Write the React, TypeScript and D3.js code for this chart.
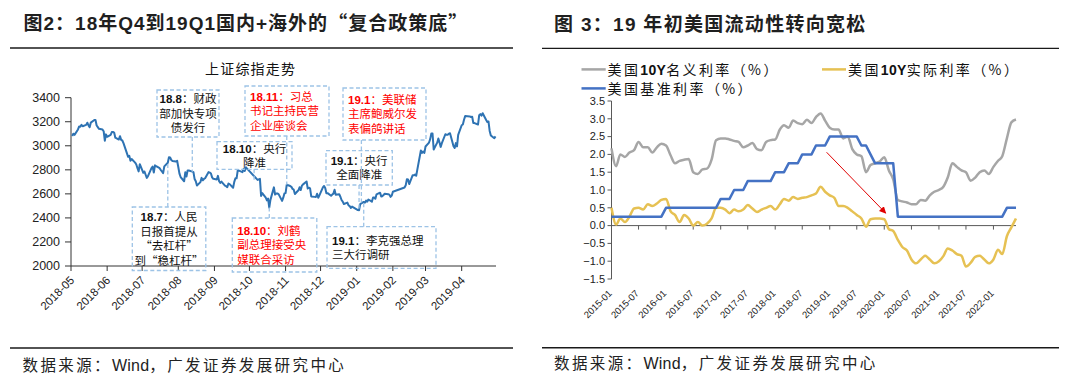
import React from "react";
import * as d3 from "d3";

// ================= LEFT CHART DATA (上证综指) =================
const sseDates: string[] = [
  "2018-05-02","2018-05-03","2018-05-04","2018-05-07","2018-05-08","2018-05-09","2018-05-10","2018-05-11","2018-05-14","2018-05-15","2018-05-16","2018-05-17","2018-05-18","2018-05-21","2018-05-22","2018-05-23","2018-05-24","2018-05-25","2018-05-28","2018-05-29","2018-05-30","2018-05-31",
  "2018-06-01","2018-06-04","2018-06-05","2018-06-06","2018-06-07","2018-06-08","2018-06-11","2018-06-12","2018-06-13","2018-06-14","2018-06-15","2018-06-19","2018-06-20","2018-06-21","2018-06-22","2018-06-25","2018-06-26","2018-06-27","2018-06-28","2018-06-29",
  "2018-07-02","2018-07-03","2018-07-04","2018-07-05","2018-07-06","2018-07-09","2018-07-10","2018-07-11","2018-07-12","2018-07-13","2018-07-16","2018-07-17","2018-07-18","2018-07-19","2018-07-20","2018-07-23","2018-07-24","2018-07-25","2018-07-26","2018-07-27","2018-07-30","2018-07-31",
  "2018-08-01","2018-08-02","2018-08-03","2018-08-06","2018-08-07","2018-08-08","2018-08-09","2018-08-10","2018-08-13","2018-08-14","2018-08-15","2018-08-16","2018-08-17","2018-08-20","2018-08-21","2018-08-22","2018-08-23","2018-08-24","2018-08-27","2018-08-28","2018-08-29","2018-08-30","2018-08-31",
  "2018-09-03","2018-09-04","2018-09-05","2018-09-06","2018-09-07","2018-09-10","2018-09-11","2018-09-12","2018-09-13","2018-09-14","2018-09-17","2018-09-18","2018-09-19","2018-09-20","2018-09-21","2018-09-25","2018-09-26","2018-09-27","2018-09-28",
  "2018-10-08","2018-10-09","2018-10-10","2018-10-11","2018-10-12","2018-10-15","2018-10-16","2018-10-17","2018-10-18","2018-10-19","2018-10-22","2018-10-23","2018-10-24","2018-10-25","2018-10-26","2018-10-29","2018-10-30","2018-10-31",
  "2018-11-01","2018-11-02","2018-11-05","2018-11-06","2018-11-07","2018-11-08","2018-11-09","2018-11-12","2018-11-13","2018-11-14","2018-11-15","2018-11-16","2018-11-19","2018-11-20","2018-11-21","2018-11-22","2018-11-23","2018-11-26","2018-11-27","2018-11-28","2018-11-29","2018-11-30",
  "2018-12-03","2018-12-04","2018-12-05","2018-12-06","2018-12-07","2018-12-10","2018-12-11","2018-12-12","2018-12-13","2018-12-14","2018-12-17","2018-12-18","2018-12-19","2018-12-20","2018-12-21","2018-12-24","2018-12-25","2018-12-26","2018-12-27","2018-12-28",
  "2019-01-02","2019-01-03","2019-01-04","2019-01-07","2019-01-08","2019-01-09","2019-01-10","2019-01-11","2019-01-14","2019-01-15","2019-01-16","2019-01-17","2019-01-18","2019-01-21","2019-01-22","2019-01-23","2019-01-24","2019-01-25","2019-01-28","2019-01-29","2019-01-30","2019-01-31",
  "2019-02-01","2019-02-11","2019-02-12","2019-02-13","2019-02-14","2019-02-15","2019-02-18","2019-02-19","2019-02-20","2019-02-21","2019-02-22","2019-02-25","2019-02-26","2019-02-27","2019-02-28",
  "2019-03-01","2019-03-04","2019-03-05","2019-03-06","2019-03-07","2019-03-08","2019-03-11","2019-03-12","2019-03-13","2019-03-14","2019-03-15","2019-03-18","2019-03-19","2019-03-20","2019-03-21","2019-03-22","2019-03-25","2019-03-26","2019-03-27","2019-03-28","2019-03-29",
  "2019-04-01","2019-04-02","2019-04-03","2019-04-04","2019-04-08","2019-04-09","2019-04-10","2019-04-11","2019-04-12","2019-04-15","2019-04-16","2019-04-17","2019-04-18","2019-04-19","2019-04-22","2019-04-23","2019-04-24","2019-04-25","2019-04-26","2019-04-29","2019-04-30",
];
const sseClose: number[] = [
  3081,3100,3091,3136,3161,3159,3174,3163,3174,3192,3170,3155,3193,3214,3214,3169,3155,3141,3135,3121,3042,3095,
  3075,3091,3114,3115,3110,3067,3052,3080,3049,3044,3022,2908,2916,2876,2890,2860,2845,2813,2787,2847,
  2775,2786,2759,2733,2747,2815,2827,2777,2837,2831,2814,2798,2787,2773,2829,2859,2905,2903,2882,2874,2869,2876,
  2824,2768,2740,2705,2779,2744,2795,2795,2785,2781,2723,2705,2669,2698,2733,2713,2724,2730,2781,2777,2769,2737,2725,
  2720,2750,2705,2691,2702,2669,2664,2656,2686,2681,2651,2700,2730,2729,2797,2781,2806,2791,2821,
  2716,2721,2725,2583,2606,2568,2546,2561,2486,2550,2654,2594,2603,2603,2598,2542,2568,2603,
  2606,2676,2665,2659,2641,2635,2599,2630,2655,2632,2668,2679,2703,2645,2651,2646,2579,2575,2574,2601,2567,2588,
  2654,2666,2649,2605,2606,2584,2594,2602,2634,2593,2597,2576,2549,2536,2516,2527,2504,2498,2483,2494,
  2465,2464,2515,2533,2526,2544,2535,2553,2535,2570,2570,2559,2596,2610,2579,2581,2591,2601,2597,2594,2575,2585,
  2618,2653,2671,2721,2719,2682,2755,2754,2761,2751,2804,2961,2941,2953,2941,
  2994,3027,3055,3103,3102,2969,3026,3061,3027,2991,3022,3096,3091,3091,3101,3104,2997,2982,3022,2995,3091,
  3171,3177,3217,3247,3244,3239,3242,3190,3189,3177,3254,3263,3251,3271,3215,3198,3202,3124,3086,3063,3078,
];
const leftYTicks = [2000, 2200, 2400, 2600, 2800, 3000, 3200, 3400];
const leftMonthLabels = ["2018-05","2018-06","2018-07","2018-08","2018-09","2018-10","2018-11","2018-12","2019-01","2019-02","2019-03","2019-04"];

// annotations (text + the date each one points to)
const noteHeads = ["18.8", "18.11", "18.10", "18.7", "18.10", "19.1", "19.1", "19.1"];
const noteLines: string[][] = [
  ["财政", "部加快专项", "债发行"],
  ["习总", "书记主持民营", "企业座谈会"],
  ["央行", "降准"],
  ["人民", "日报首提从", "“去杠杆”", "到“稳杠杆”"],
  ["刘鹤", "副总理接受央", "媒联合采访"],
  ["美联储", "主席鲍威尔发", "表偏鸽讲话"],
  ["央行", "全面降准"],
  ["李克强总理", "三大行调研"],
];
const noteDates = ["2018-08-13", "2018-11-02", "2018-10-05", "2018-07-23", "2018-10-18", "2019-01-05", "2019-01-03", "2019-01-07"];
const noteRed = [false, true, false, false, true, true, false, false];

// ================= RIGHT CHART DATA =================
const usMonths = d3.timeMonth.range(new Date(2015, 0, 1), new Date(2022, 6, 1));
const nominal10Y: number[] = [
  2.17,1.67,2.0,1.93,2.05,2.12,2.35,2.2,2.2,2.05,2.2,2.3,
  2.25,1.97,1.75,1.82,1.85,1.87,1.5,1.45,1.58,1.6,1.85,2.4,
  2.45,2.45,2.42,2.38,2.35,2.2,2.25,2.32,2.15,2.12,2.35,2.4,
  2.42,2.7,2.82,2.75,2.95,2.88,2.85,2.97,2.88,3.05,3.15,2.95,
  2.75,2.7,2.7,2.45,2.5,2.15,2.0,1.95,1.5,1.7,1.75,1.8,
  1.92,1.55,1.3,0.72,0.68,0.65,0.6,0.6,0.72,0.7,0.85,0.95,
  1.0,1.1,1.35,1.75,1.65,1.55,1.5,1.26,1.35,1.5,1.55,1.45,
  1.65,1.82,1.95,2.45,2.9,2.98,
];
const real10Y: number[] = [
  0.5,0.03,0.2,0.1,0.25,0.48,0.5,0.45,0.6,0.55,0.62,0.72,
  0.75,0.4,0.3,0.1,0.3,0.2,0.0,0.1,0.0,0.05,0.2,0.5,
  0.5,0.45,0.35,0.45,0.4,0.45,0.58,0.48,0.38,0.45,0.5,0.55,
  0.45,0.6,0.75,0.7,0.8,0.75,0.78,0.8,0.85,0.9,1.09,0.95,
  0.85,0.78,0.55,0.55,0.5,0.4,0.3,0.2,-0.03,0.18,0.2,0.2,
  0.18,-0.1,-0.15,-0.4,-0.6,-0.7,-0.95,-1.06,-0.95,-0.85,-0.95,-1.06,
  -1.0,-0.85,-0.64,-0.7,-0.8,-0.85,-1.15,-1.05,-0.88,-0.85,-0.95,-1.06,
  -0.95,-0.68,-0.8,-0.3,-0.05,0.2,
];
const fedRate: number[] = [
  0.25,0.25,0.25,0.25,0.25,0.25,0.25,0.25,0.25,0.25,0.25,0.25,
  0.5,0.5,0.5,0.5,0.5,0.5,0.5,0.5,0.5,0.5,0.5,0.5,
  0.75,0.75,0.75,1.0,1.0,1.0,1.25,1.25,1.25,1.25,1.25,1.25,
  1.5,1.5,1.5,1.75,1.75,1.75,2.0,2.0,2.0,2.25,2.25,2.25,
  2.5,2.5,2.5,2.5,2.5,2.5,2.5,2.25,2.25,2.0,1.75,1.75,
  1.75,1.75,1.75,0.25,0.25,0.25,0.25,0.25,0.25,0.25,0.25,0.25,
  0.25,0.25,0.25,0.25,0.25,0.25,0.25,0.25,0.25,0.25,0.25,0.25,
  0.25,0.25,0.25,0.5,0.5,0.5,
];
const rightYTicks = [-1.5, -1.0, -0.5, 0, 0.5, 1.0, 1.5, 2.0, 2.5, 3.0, 3.5];
const rightXLabels = ["2015-01","2015-07","2016-01","2016-07","2017-01","2017-07","2018-01","2018-07","2019-01","2019-07","2020-01","2020-07","2021-01","2021-07","2022-01"];
// arrow annotation: from (date, value) to (date, value)
const arrowDates = ["2018-12-11", "2020-01-11"];
const arrowValues = [2.06, 0.35];

const FONT = "'Liberation Sans', 'Noto Sans CJK SC', sans-serif";
const CJK = "'Noto Sans CJK SC', sans-serif";
const LAT = "'Liberation Sans', sans-serif";

// box geometry (layout only)
const noteBoxes = [
  { x: 157, y: 90, w: 62, h: 47, align: "middle", dir: "down" },
  { x: 245, y: 86, w: 84, h: 50, align: "start", dir: "down" },
  { x: 217, y: 141.7, w: 75, h: 27.6, align: "middle", dir: "down" },
  { x: 132.3, y: 207, w: 73.5, h: 63.5, align: "middle", dir: "up" },
  { x: 232.3, y: 218, w: 84.5, h: 54, align: "start", dir: "up" },
  { x: 343, y: 88, w: 83, h: 52, align: "start", dir: "down" },
  { x: 326, y: 150.7, w: 66.3, h: 34.3, align: "middle", dir: "down" },
  { x: 327, y: 226.7, w: 109, h: 41.6, align: "start", dir: "up" },
];

export default function App() {
  const parse = d3.timeParse("%Y-%m-%d");

  // ---------- left scales ----------
  const lx = d3.scaleTime().domain([new Date(2018, 4, 1), new Date(2019, 3, 30)]).range([71, 495.5]);
  const ly = d3.scaleLinear().domain([2000, 3400]).range([266, 97.7]);
  const ssePts: [Date, number][] = sseDates.map((d, i) => [parse(d) as Date, sseClose[i]]);
  const sseLine = d3.line<[Date, number]>().x((d) => lx(d[0])).y((d) => ly(d[1]));
  const bis = d3.bisector((d: [Date, number]) => d[0]).center;
  const valueAt = (ds: string) => {
    const dt = parse(ds) as Date;
    return ssePts[bis(ssePts, dt)][1];
  };

  // ---------- right scales ----------
  const rx = d3.scaleTime().domain([new Date(2015, 0, 1), new Date(2022, 5, 1)]).range([611.5, 1016]);
  const ry = d3.scaleLinear().domain([-1.5, 3.5]).range([279, 101]);
  const mk = (vals: number[]) => usMonths.map((m, i) => [m, vals[i]] as [Date, number]);
  const smooth = d3.line<[Date, number]>().x((d) => rx(d[0])).y((d) => ry(d[1])).curve(d3.curveMonotoneX);
  const straight = d3.line<[Date, number]>().x((d) => rx(d[0])).y((d) => ry(d[1]));
  const fmt1 = d3.format(".1f");

  const dashStyle = { stroke: "#9DC3E6", strokeWidth: 1.3, strokeDasharray: "4 2.5", fill: "none" } as const;

  const legendText = (x: number, y: number, pre: string, bold: string, post: string) => (
    <text x={x} y={y} fontSize={14} fill="#111" fontFamily={CJK} letterSpacing={2.4}>
      <tspan>{pre}</tspan>
      {bold ? <tspan fontFamily={LAT} fontWeight="bold" letterSpacing={0.3}>{bold}</tspan> : null}
      <tspan>{post}</tspan>
    </text>
  );

  const sourceText = (x: number, y: number) => (
    <text x={x} y={y} fontSize={15.5} fill="#222" fontFamily={CJK} letterSpacing={2.4}>
      <tspan>数据来源：</tspan>
      <tspan fontFamily={LAT} fontSize={16} letterSpacing={0.2}>Wind</tspan>
      <tspan>，广发证券发展研究中心</tspan>
    </text>
  );

  return (
    <svg width={1080} height={381} style={{ position: "absolute", left: 0, top: 0, background: "#fff" }} fontFamily={FONT}>
      <defs>
        <marker id="arrowHead" viewBox="0 0 10 10" refX="9" refY="5" markerWidth="7" markerHeight="7" orient="auto">
          <path d="M0,0 L10,5 L0,10 z" fill="#E00000" />
        </marker>
      </defs>
      <rect x={0} y={0} width={1080} height={381} fill="#fff" />

      {/* ================= LEFT PANEL ================= */}
      <text x={23.5} y={30} fontSize={19} fontWeight="bold" fill="#1f1f1f" letterSpacing={1}>
        图2：18年Q4到19Q1国内+海外的<tspan fontFamily={CJK}>“</tspan>复合政策底<tspan fontFamily={CJK}>”</tspan>
      </text>
      <line x1={10} x2={513} y1={48} y2={48} stroke="#1a1a1a" strokeWidth={1.4} />
      <text x={205} y={73.5} fontSize={14} fontFamily={CJK} fill="#111" textLength={90} lengthAdjust="spacing">上证综指走势</text>

      {/* y axis */}
      <line x1={71} x2={71} y1={ly(3400)} y2={ly(2000)} stroke="#333" strokeWidth={1} />
      {leftYTicks.map((t) => (
        <g key={"ly" + t}>
          <line x1={65} x2={71} y1={ly(t)} y2={ly(t)} stroke="#333" strokeWidth={1} />
          <text x={60} y={ly(t)} dy="0.35em" fontSize={12.5} textAnchor="end" fill="#222">{t}</text>
        </g>
      ))}
      {/* x axis */}
      <line x1={71} x2={496} y1={ly(2000)} y2={ly(2000)} stroke="#333" strokeWidth={1} />
      {leftMonthLabels.map((m) => {
        const xx = lx(parse(m + "-01") as Date);
        return (
          <g key={"lx" + m}>
            <line x1={xx} x2={xx} y1={266} y2={271} stroke="#333" strokeWidth={1} />
            <text transform={`translate(${xx + 4},${281}) rotate(-45)`} fontSize={11.5} textAnchor="end" fill="#222">{m}</text>
          </g>
        );
      })}

      {/* series */}
      <path d={sseLine(ssePts) || ""} fill="none" stroke="#2E73B3" strokeWidth={2} strokeLinejoin="round" />

      {/* annotation boxes */}
      {noteBoxes.map((b, i) => {
        const lines = noteLines[i];
        const n = lines.length;
        const step = 14.6;
        const firstBase = b.y + b.h / 2 - ((n - 1) * step) / 2 + 4.3;
        const tx = b.align === "middle" ? b.x + b.w / 2 : b.x + 5;
        const color = noteRed[i] ? "#FF0000" : "#111";
        return (
          <g key={"nb" + i}>
            <rect x={b.x} y={b.y} width={b.w} height={b.h} fill="#fff" {...dashStyle} />
            {lines.map((ln, j) => (
              <text key={j} x={tx} y={firstBase + j * step} fontSize={11.5} fill={color} textAnchor={b.align} fontFamily={CJK}>
                {j === 0 ? (
                  <>
                    <tspan fontFamily={LAT} fontWeight="bold">{noteHeads[i]}</tspan>
                    <tspan>：{ln}</tspan>
                  </>
                ) : (
                  ln
                )}
              </text>
            ))}
          </g>
        );
      })}
      {/* connectors */}
      {noteBoxes.map((b, i) => {
        const xx = lx(parse(noteDates[i]) as Date);
        const yv = ly(valueAt(noteDates[i]));
        const y1 = b.dir === "down" ? b.y + b.h : b.y;
        return <line key={"nc" + i} x1={xx} x2={xx} y1={y1} y2={yv} {...dashStyle} />;
      })}

      <line x1={10} x2={513} y1={348} y2={348} stroke="#1a1a1a" strokeWidth={1.4} />
      {sourceText(22.5, 371)}

      {/* ================= RIGHT PANEL ================= */}
      <text x={554} y={31} fontSize={19} fontWeight="bold" fill="#1f1f1f" letterSpacing={1.3}>
        图 3：19 年初美国流动性转向宽松
      </text>
      <line x1={542} x2={1059} y1={48.4} y2={48.4} stroke="#1a1a1a" strokeWidth={1.4} />

      {/* legend */}
      <line x1={581.5} x2={605.7} y1={69.4} y2={69.4} stroke="#A6A6A6" strokeWidth={2.5} />
      {legendText(607.5, 74.5, "美国", "10Y", "名义利率（%）")}
      <line x1={822} x2={846} y1={69.4} y2={69.4} stroke="#E6C153" strokeWidth={2.5} />
      {legendText(848, 74.5, "美国", "10Y", "实际利率（%）")}
      <line x1={581.5} x2={605.7} y1={88.4} y2={88.4} stroke="#4472C4" strokeWidth={2.5} />
      {legendText(607.5, 93.5, "美国基准利率（%）", "", "")}

      {/* y axis */}
      <line x1={611.5} x2={611.5} y1={ry(3.5)} y2={ry(-1.5)} stroke="#595959" strokeWidth={1} />
      {rightYTicks.map((t) => (
        <g key={"ry" + t}>
          <line x1={607.5} x2={611.5} y1={ry(t)} y2={ry(t)} stroke="#595959" strokeWidth={1} />
          <text x={605} y={ry(t)} dy="0.35em" fontSize={11} textAnchor="end" fill="#222">{fmt1(t)}</text>
        </g>
      ))}
      {/* x axis at zero */}
      <line x1={611.5} x2={rx(new Date(2022, 5, 1))} y1={ry(0)} y2={ry(0)} stroke="#595959" strokeWidth={1} />
      {rightXLabels.map((m) => {
        const xx = rx(parse(m + "-01") as Date);
        return (
          <g key={"rx" + m}>
            <line x1={xx} x2={xx} y1={ry(0)} y2={ry(0) + 4} stroke="#595959" strokeWidth={1} />
            <text transform={`translate(${xx + 1},${294}) rotate(-45)`} fontSize={9.5} textAnchor="end" fill="#222">{m}</text>
          </g>
        );
      })}

      {/* series */}
      <path d={smooth(mk(nominal10Y)) || ""} fill="none" stroke="#A6A6A6" strokeWidth={2.5} strokeLinejoin="round" />
      <path d={smooth(mk(real10Y)) || ""} fill="none" stroke="#E6C153" strokeWidth={2.5} strokeLinejoin="round" />
      <path d={straight(mk(fedRate)) || ""} fill="none" stroke="#4472C4" strokeWidth={2.5} strokeLinejoin="round" />

      {/* red arrow */}
      <line
        x1={rx(parse(arrowDates[0]) as Date)}
        y1={ry(arrowValues[0])}
        x2={rx(parse(arrowDates[1]) as Date)}
        y2={ry(arrowValues[1])}
        stroke="#E00000"
        strokeWidth={1}
        markerEnd="url(#arrowHead)"
      />

      <line x1={542} x2={1059} y1={347.8} y2={347.8} stroke="#1a1a1a" strokeWidth={1.4} />
      {sourceText(554, 368.5)}
    </svg>
  );
}
